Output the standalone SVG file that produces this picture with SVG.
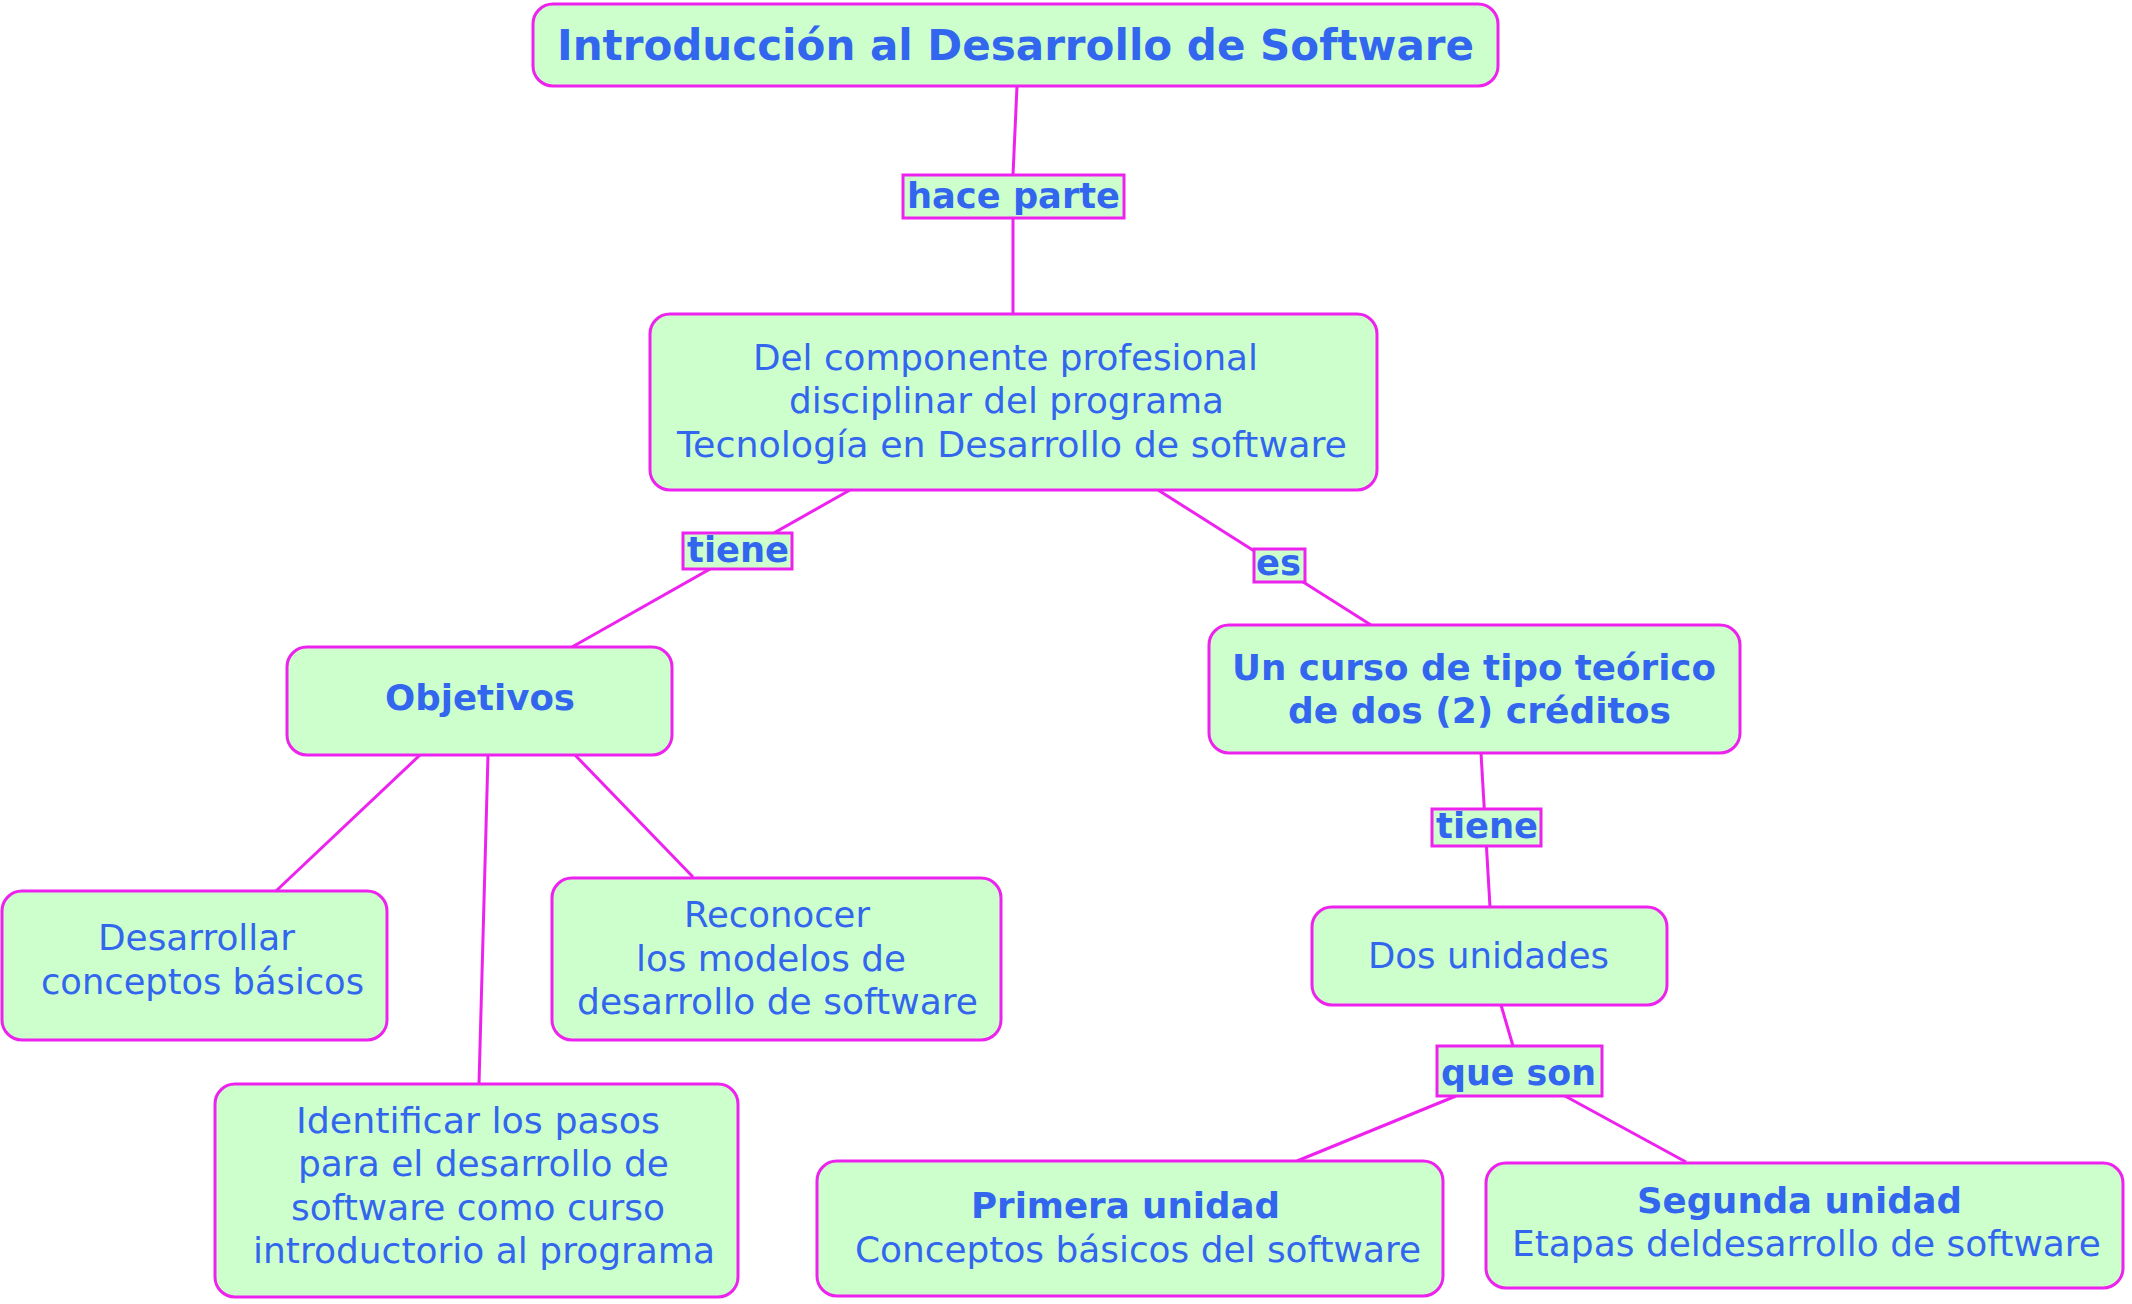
<svg xmlns="http://www.w3.org/2000/svg" width="2132" height="1304" viewBox="0 0 2132 1304">
<style>
.node{fill:#ccffcc;stroke:#ee22ee;stroke-width:3}
.lbl{fill:#ccffcc;stroke:#ee22ee;stroke-width:3}
.con line{stroke:#ee22ee;stroke-width:3}
text{font-family:"DejaVu Sans","Verdana",sans-serif;fill:#3366ee;font-size:35px}
.b{font-weight:bold}
</style>
<rect width="2132" height="1304" fill="#ffffff"/>
<g id="connectors" class="con">
<line x1="1017" y1="86" x2="1013" y2="175"/>
<line x1="1013" y1="218" x2="1013" y2="314"/>
<line x1="850" y1="490" x2="572" y2="647"/>
<line x1="1158" y1="490" x2="1371" y2="625"/>
<line x1="420" y1="755" x2="276" y2="891"/>
<line x1="488" y1="755" x2="479" y2="1084"/>
<line x1="575" y1="755" x2="693" y2="877"/>
<line x1="1481" y1="753" x2="1490" y2="907"/>
<line x1="1501" y1="1005" x2="1513" y2="1046"/>
<line x1="1456" y1="1096" x2="1297" y2="1161"/>
<line x1="1565" y1="1096" x2="1686" y2="1162"/>
</g>
<g id="labels">
<g id="lbl-hace"><rect class="lbl" x="903" y="175" width="221" height="43"/><text class="b" x="907" y="208" textLength="213" lengthAdjust="spacingAndGlyphs">hace parte</text></g>
<g id="lbl-tiene1"><rect class="lbl" x="683" y="533" width="109" height="36"/><text class="b" x="687" y="562" textLength="102" lengthAdjust="spacingAndGlyphs">tiene</text></g>
<g id="lbl-es"><rect class="lbl" x="1254" y="549" width="51" height="33"/><text class="b" x="1256" y="575" textLength="45" lengthAdjust="spacingAndGlyphs">es</text></g>
<g id="lbl-tiene2"><rect class="lbl" x="1432" y="809" width="109" height="37"/><text class="b" x="1436" y="838" textLength="102" lengthAdjust="spacingAndGlyphs">tiene</text></g>
<g id="lbl-queson"><rect class="lbl" x="1437" y="1046" width="165" height="50"/><text class="b" x="1441" y="1085" textLength="155" lengthAdjust="spacingAndGlyphs">que son</text></g>
</g>
<g id="n-title"><rect class="node" x="533" y="4" width="965" height="82" rx="20"/><text class="b" x="557" y="60" style="font-size:42px" textLength="917" lengthAdjust="spacingAndGlyphs">Introducción al Desarrollo de Software</text></g>
<g id="n-componente"><rect class="node" x="650" y="314" width="727" height="176" rx="20"/>
<text x="753" y="370" textLength="505" lengthAdjust="spacingAndGlyphs">Del componente profesional</text>
<text x="789" y="413" textLength="435" lengthAdjust="spacingAndGlyphs">disciplinar del programa</text>
<text x="677" y="457" textLength="670" lengthAdjust="spacingAndGlyphs">Tecnología en Desarrollo de software</text></g>
<g id="n-objetivos"><rect class="node" x="287" y="647" width="385" height="108" rx="20"/><text class="b" x="385" y="710" textLength="190" lengthAdjust="spacingAndGlyphs">Objetivos</text></g>
<g id="n-curso"><rect class="node" x="1209" y="625" width="531" height="128" rx="20"/>
<text class="b" x="1232" y="680" textLength="484" lengthAdjust="spacingAndGlyphs">Un curso de tipo teórico</text>
<text class="b" x="1288" y="723" textLength="383" lengthAdjust="spacingAndGlyphs">de dos (2) créditos</text></g>
<g id="n-desarrollar"><rect class="node" x="2" y="891" width="385" height="149" rx="20"/>
<text x="98" y="950" textLength="197" lengthAdjust="spacingAndGlyphs">Desarrollar</text>
<text x="41" y="994" textLength="323" lengthAdjust="spacingAndGlyphs">conceptos básicos</text></g>
<g id="n-reconocer"><rect class="node" x="552" y="878" width="449" height="162" rx="20"/>
<text x="684" y="927" textLength="186" lengthAdjust="spacingAndGlyphs">Reconocer</text>
<text x="636" y="971" textLength="270" lengthAdjust="spacingAndGlyphs">los modelos de</text>
<text x="577" y="1014" textLength="401" lengthAdjust="spacingAndGlyphs">desarrollo de software</text></g>
<g id="n-identificar"><rect class="node" x="215" y="1084" width="523" height="213" rx="20"/>
<text x="296" y="1133" textLength="364" lengthAdjust="spacingAndGlyphs">Identificar los pasos</text>
<text x="298" y="1176" textLength="371" lengthAdjust="spacingAndGlyphs">para el desarrollo de</text>
<text x="291" y="1220" textLength="374" lengthAdjust="spacingAndGlyphs">software como curso</text>
<text x="253" y="1263" textLength="462" lengthAdjust="spacingAndGlyphs">introductorio al programa</text></g>
<g id="n-dos"><rect class="node" x="1312" y="907" width="355" height="98" rx="20"/><text x="1368" y="968" textLength="241" lengthAdjust="spacingAndGlyphs">Dos unidades</text></g>
<g id="n-primera"><rect class="node" x="817" y="1161" width="626" height="135" rx="20"/>
<text class="b" x="971" y="1218" textLength="309" lengthAdjust="spacingAndGlyphs">Primera unidad</text>
<text x="855" y="1262" textLength="566" lengthAdjust="spacingAndGlyphs">Conceptos básicos del software</text></g>
<g id="n-segunda"><rect class="node" x="1486" y="1163" width="637" height="125" rx="20"/>
<text class="b" x="1637" y="1213" textLength="325" lengthAdjust="spacingAndGlyphs">Segunda unidad</text>
<text x="1512" y="1256" textLength="589" lengthAdjust="spacingAndGlyphs">Etapas deldesarrollo de software</text></g>
</svg>
